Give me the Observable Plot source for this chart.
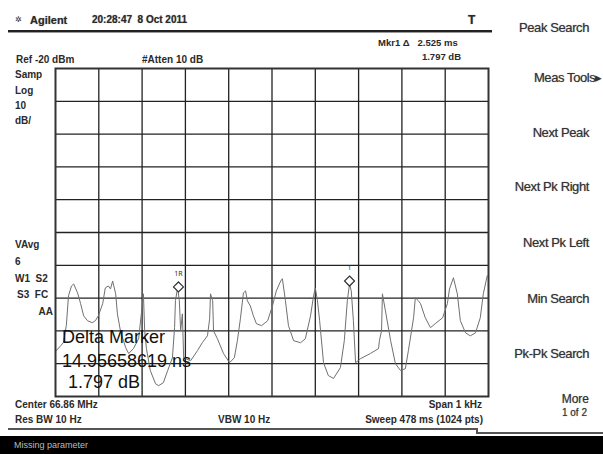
<!DOCTYPE html>
<html><head><meta charset="utf-8">
<script src="https://cdn.jsdelivr.net/npm/d3@7"></script>
<script src="https://cdn.jsdelivr.net/npm/@observablehq/plot@0.6"></script>
<style>
body{margin:0;background:#fff;}
#wrap{position:relative;width:603px;height:454px;overflow:hidden;background:#fff;font-family:"Liberation Sans",Arial,sans-serif;}
#wrap svg{position:absolute;left:0;top:0;}
.t{position:absolute;white-space:pre;color:#2a2a2a;}
.hl{position:absolute;background:#333;}
</style></head>
<body><div id="wrap"></div>
<script>
// Trace: frequency offset from center (Hz) and level (dBm)
const freqHz = [-498,-488,-482,-475,-470,-463,-458,-449,-442,-435,-426,-415,-408,-401,-391,-385,-378,-373,-368,-361,-357,-350,-338,-331,-320,-308,-301,-297,-294,-290,-281,-269,-262,-251,-241,-230,-225,-223,-218,-214,-211,-207,-204,-188,-172,-161,-149,-144,-142,-137,-135,-126,-112,-98,-87,-80,-73,-66,-61,-57,-50,-43,-36,-24,-10,1,10,20,24,31,38,50,66,77,89,96,100,105,110,119,130,142,158,167,174,179,183,188,193,204,227,246,248,253,255,262,274,285,297,308,315,327,331,338,343,354,366,377,394,405,410,419,428,435,447,458,470,481,488,497];
const levelDbm = [-106.0,-104.5,-103.6,-98.4,-89.3,-86.3,-85.7,-88.4,-91.7,-95.4,-96.9,-97.5,-96.9,-95.4,-91.7,-86.9,-86.3,-87.2,-84.8,-88.7,-94.8,-100.0,-105.1,-106.9,-105.4,-102.4,-93.9,-88.7,-100.0,-105.4,-112.1,-116.1,-116.7,-115.8,-112.1,-108.2,-99.0,-90.8,-86.9,-90.8,-100.0,-94.8,-108.2,-109.1,-106.0,-103.6,-101.5,-96.3,-88.7,-90.8,-100.0,-102.4,-106.9,-109.7,-108.2,-103.0,-96.3,-88.4,-87.8,-90.8,-92.4,-95.4,-97.8,-98.4,-96.9,-92.4,-87.8,-84.8,-84.1,-90.8,-98.4,-103.0,-103.6,-102.4,-95.4,-89.3,-86.9,-90.8,-96.9,-109.7,-113.6,-114.5,-111.2,-103.0,-90.8,-85.7,-87.8,-96.9,-109.7,-108.5,-106.9,-105.4,-103.0,-100.0,-88.7,-93.9,-103.0,-110.0,-112.1,-111.5,-106.0,-96.0,-89.9,-90.8,-91.7,-96.0,-99.0,-97.8,-96.0,-91.7,-87.2,-83.8,-88.7,-96.9,-100.6,-101.5,-100.6,-96.0,-88.7,-83.2];

// Markers
const markerFreq = [-216, 179];
const markerLevel = [-86.6, -84.8];
const markerLabel = ["1R", "1"];

// Graticule (10 divisions each way)
const gridFreq = [-400,-300,-200,-100,0,100,200,300,400];
const gridLevel = [-110,-100,-90,-80,-70,-60,-50,-40,-30];
const freqDomain = [-500, 500];
const levelDomain = [-120, -20];

// Softkey menu labels
const menuItems = ["Peak Search","Meas Tools\u25B8","Next Peak","Next Pk Right","Next Pk Left","Min Search","Pk-Pk Search"];

const trace = freqHz.map((f, i) => ({f, dbm: levelDbm[i]}));
const markers = markerFreq.map((f, i) => ({f, dbm: markerLevel[i], label: markerLabel[i]}));

const chart = Plot.plot({
  width: 603, height: 454,
  marginLeft: 55, marginRight: 115, marginTop: 68, marginBottom: 58,
  style: {background: "transparent"},
  x: {domain: freqDomain, axis: null},
  y: {domain: levelDomain, axis: null},
  marks: [
    Plot.ruleX(gridFreq, {stroke: "#222", strokeWidth: 1.3}),
    Plot.ruleY(gridLevel, {stroke: "#222", strokeWidth: 1.3}),
    Plot.line(trace, {x: "f", y: "dbm", stroke: "#707070", strokeWidth: 1}),
    Plot.dot(markers, {x: "f", y: "dbm", symbol: "diamond2", r: 4.5, stroke: "#333", strokeWidth: 1.2, fill: "white"}),
    Plot.text(markers, {x: "f", y: "dbm", text: "label", dy: -13, fontSize: 7, fill: "#333"}),
    Plot.frame({stroke: "#333", strokeWidth: 2})
  ]
});

const wrap = document.getElementById("wrap");
wrap.appendChild(chart);

function put(txt, x, y, size, opts = {}) {
  const d = document.createElement("div");
  d.className = "t";
  d.textContent = txt;
  d.style.fontSize = size + "px";
  d.style.lineHeight = size + "px";
  d.style.top = (y - size / 2) + "px";
  if (opts.right) { d.style.right = (603 - x) + "px"; } else { d.style.left = x + "px"; }
  if (opts.bold !== false) d.style.fontWeight = "bold";
  if (opts.color) d.style.color = opts.color;
  if (opts.shadow) d.style.textShadow = "0 0 1px #888";
  if (opts.ls) d.style.letterSpacing = opts.ls + "px";
  wrap.appendChild(d);
  return d;
}
function hline(x, y, w, h, c) {
  const d = document.createElement("div");
  d.className = "hl";
  d.style.left = x + "px"; d.style.top = y + "px";
  d.style.width = w + "px"; d.style.height = h + "px";
  if (c) d.style.background = c;
  wrap.appendChild(d);
}

// header
put("\u2732", 15, 20, 8, {bold: false});
put("Agilent", 30, 20, 11, {shadow: true});
put("20:28:47  8 Oct 2011", 92, 20, 10, {shadow: true});
put("T", 468, 20, 12, {shadow: true});
hline(8, 30, 484, 2, "#222");
hline(8, 32, 484, 1, "#999");
put("Mkr1 \u0394   2.525 ms", 378, 43, 9.5);
put("1.797 dB", 461, 57, 9.5, {right: true});
put("Ref -20 dBm", 16, 60, 10);
put("#Atten 10 dB", 142, 60, 10);

// left annotations
put("Samp", 15, 75, 10);
put("Log", 15, 91, 10);
put("10", 15, 106, 10);
put("dB/", 15, 121, 10);
put("VAvg", 15, 245, 10);
put("6", 15, 262, 10);
put("W1  S2", 15, 279, 10);
put("S3  FC", 17, 295, 10);
put("AA", 53, 312, 10, {right: true});

// delta marker readout
put("Delta Marker", 62, 337, 18, {bold: false, color: "#111"});
put("14.95658619 ns", 62, 361, 18, {bold: false, color: "#111"});
put("1.797 dB", 68, 382, 18, {bold: false, color: "#111"});

// bottom settings
put("Center 66.86 MHz", 15, 405, 10);
put("Span 1 kHz", 482, 405, 10, {right: true});
put("Res BW 10 Hz", 15, 420, 10);
put("VBW 10 Hz", 218, 420, 10);
put("Sweep 478 ms (1024 pts)", 483, 420, 10, {right: true});
hline(8, 428, 468, 1.5, "#555");
hline(476, 428, 1.5, 4, "#555");
hline(476, 432, 127, 1.5, "#555");
hline(0, 436, 603, 18, "#000");
put("Missing parameter", 14, 445, 9, {bold: false, color: "#bbb"});

// softkey menu
const menuY = [27, 77, 132, 186, 242, 298, 353];
menuItems.forEach((m, i) => put(m, i === 1 ? 602 : 589, menuY[i], 13, {bold: false, shadow: true, right: true, ls: -0.4, color: "#333"}));
put("More", 589, 399, 12, {bold: false, shadow: true, right: true, color: "#333"});
put("1 of 2", 587, 413, 10, {bold: false, shadow: true, right: true, color: "#333"});
</script></body></html>
